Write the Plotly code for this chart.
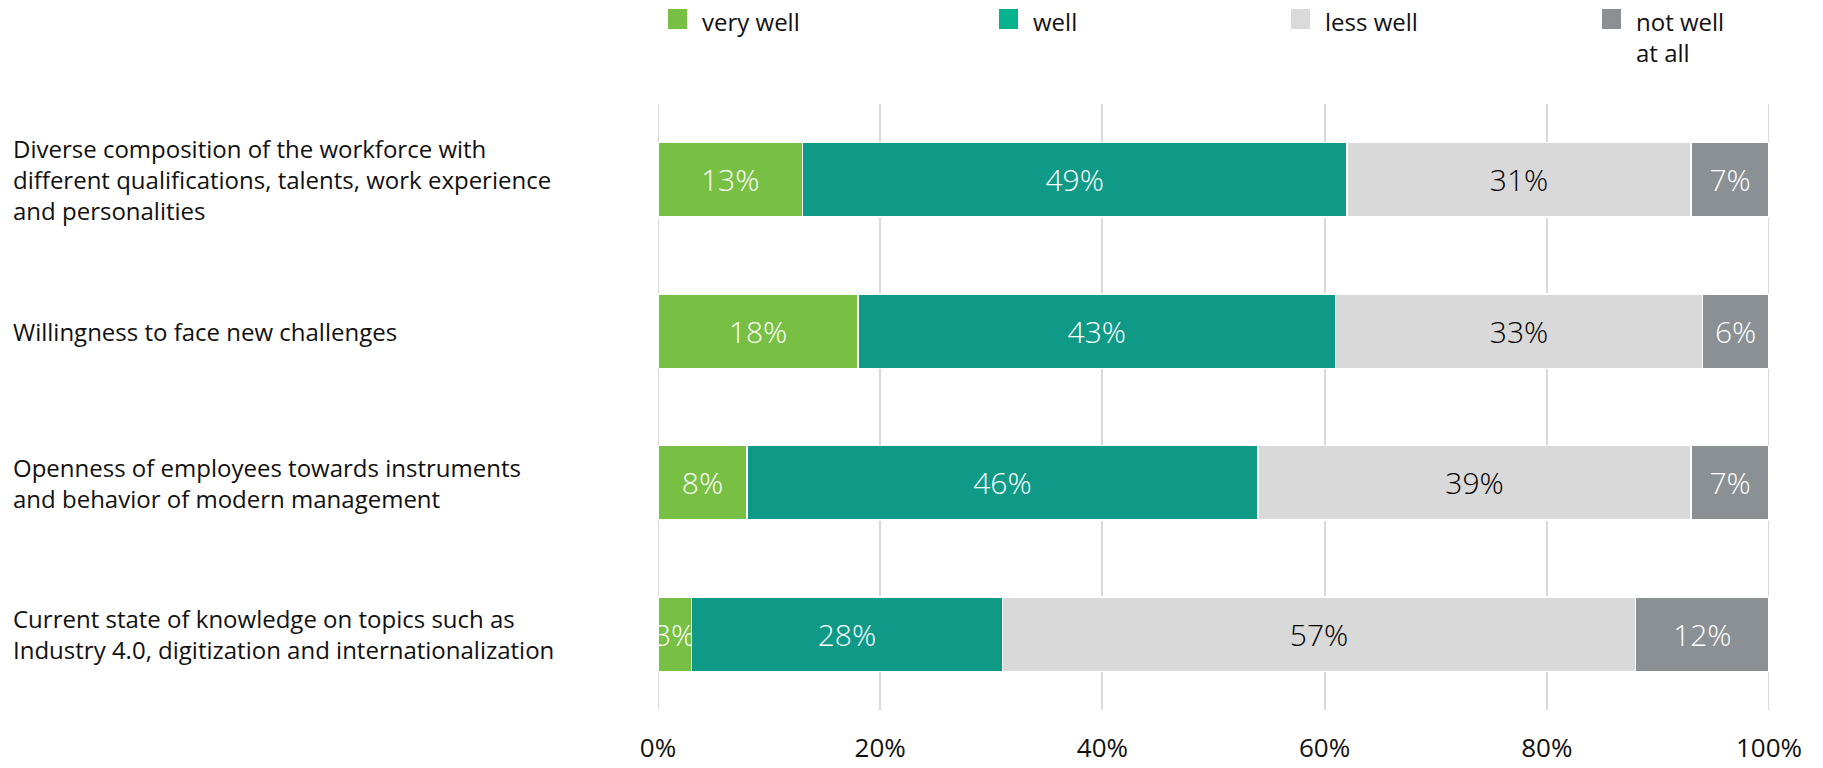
import plotly.graph_objects as go

# Survey items (top to bottom) and answer shares in percent
categories = [
    "Diverse composition of the workforce with<br>different qualifications, talents, work experience<br>and personalities",
    "Willingness to face new challenges",
    "Openness of employees towards instruments<br>and behavior of modern management",
    "Current state of knowledge on topics such as<br>Industry 4.0, digitization and internationalization",
]
series_names = ["very well", "well", "less well", "not well<br>at all"]
very_well = [13, 18, 8, 3]
well = [49, 43, 46, 28]
less_well = [31, 33, 39, 57]
not_well_at_all = [7, 6, 7, 12]
x_ticks = [0, 20, 40, 60, 80, 100]

bar_colors = ["#77c043", "#0e9a87", "#d9d9d9", "#8a9093"]
legend_colors = ["#77c043", "#05b28e", "#dadada", "#8a9093"]
text_colors = ["#ffffff", "#ffffff", "#000000", "#ffffff"]

FONT = "Open Sans"
W, H = 1823, 768
M_L, M_R, M_T, M_B = 658, 54, 104, 58
plot_w = W - M_L - M_R
plot_h = H - M_T - M_B


def px_to_paper_x(px):
    return (px - M_L) / plot_w


def px_to_paper_y(py):
    return (H - M_B - py) / plot_h


ids = list(range(len(categories)))
fig = go.Figure()
for name, vals, col, tcol in zip(series_names, [very_well, well, less_well, not_well_at_all],
                                 bar_colors, text_colors):
    fig.add_trace(go.Bar(
        y=ids,
        x=vals,
        orientation="h",
        name=name.replace("<br>", " "),
        marker=dict(color=col, line=dict(color="#ffffff", width=1.5)),
        text=[f"{v}%" for v in vals],
        textposition="inside",
        insidetextanchor="middle",
        textangle=0,
        textfont=dict(family=FONT, size=30, color=tcol, weight=300),
        cliponaxis=True,
        showlegend=False,
        hoverinfo="x+name",
    ))

annotations = []
shapes = []

# Category labels, left aligned at the page edge
for i, label in enumerate(categories):
    annotations.append(dict(
        text=label,
        x=px_to_paper_x(11), xref="paper", xanchor="left",
        y=i, yref="y", yanchor="middle",
        align="left", showarrow=False,
        font=dict(family=FONT, size=24, color="#111111"),
    ))

# Legend along the top
sq_left = [668, 999, 1291, 1602]
for name, col, x0 in zip(series_names, legend_colors, sq_left):
    shapes.append(dict(
        type="rect", xref="paper", yref="paper",
        x0=px_to_paper_x(x0), x1=px_to_paper_x(x0 + 19),
        y0=px_to_paper_y(29), y1=px_to_paper_y(9),
        fillcolor=col, line=dict(width=0), layer="above",
    ))
    annotations.append(dict(
        text=name,
        x=px_to_paper_x(x0 + 32), xref="paper", xanchor="left",
        y=px_to_paper_y(3), yref="paper", yanchor="top",
        align="left", showarrow=False,
        font=dict(family=FONT, size=24, color="#111111"),
    ))

# Grid lines at both ends of the value axis
for xv in (x_ticks[0], x_ticks[-1]):
    shapes.append(dict(
        type="line", xref="x", yref="paper", x0=xv, x1=xv, y0=0, y1=1,
        line=dict(color="#d9d9d9", width=2), layer="below",
    ))

fig.update_layout(
    width=W, height=H,
    margin=dict(l=M_L, r=M_R, t=M_T, b=M_B, pad=0, autoexpand=False),
    barmode="stack",
    bargap=0.51,
    plot_bgcolor="#ffffff",
    paper_bgcolor="#ffffff",
    font=dict(family=FONT, size=24, color="#111111"),
    uniformtext=dict(mode="show", minsize=30),
    annotations=annotations,
    shapes=shapes,
    xaxis=dict(
        range=[0, 100],
        tickvals=x_ticks,
        ticktext=[f"{v}%" for v in x_ticks],
        showgrid=True, gridcolor="#d9d9d9", gridwidth=2,
        zeroline=False, showline=False, automargin=False,
        ticks="", ticklabelstandoff=20,
        tickfont=dict(family=FONT, size=26, color="#111111"),
        fixedrange=True,
    ),
    yaxis=dict(
        range=[len(categories) - 0.5, -0.5],
        showticklabels=False, showgrid=False, zeroline=False,
        automargin=False, ticks="", fixedrange=True,
    ),
)

fig.write_html("out.html")
